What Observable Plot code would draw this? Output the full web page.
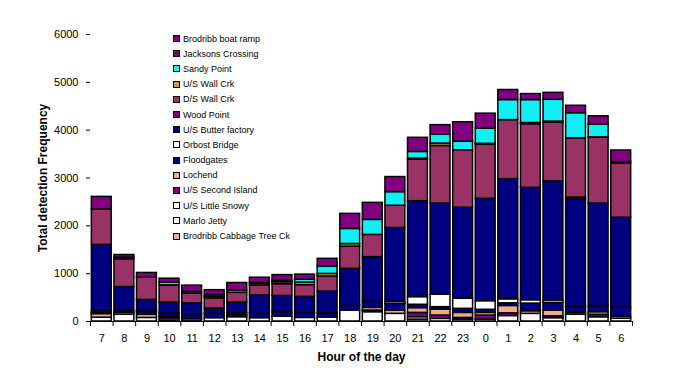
<!DOCTYPE html>
<html><head><meta charset="utf-8">
<script src="https://cdn.jsdelivr.net/npm/d3@7"></script>
<script src="https://cdn.jsdelivr.net/npm/@observablehq/plot@0.6"></script>
<style>
body{margin:0;background:#fff;font-family:"Liberation Sans",Arial,sans-serif;}
#wrap{position:relative;width:675px;height:370px;}
#legend{position:absolute;left:173px;top:31px;font-size:9px;color:#000;font-family:"Liberation Sans",Arial,sans-serif;}
.item{height:15.2px;display:flex;align-items:center;white-space:nowrap}
.sw{width:5px;height:5px;border:1px solid #000;margin-right:3px;flex:none}
</style></head><body><div id="wrap"></div>
<script>
// categories
const hours = ["7","8","9","10","11","12","13","14","15","16","17","18","19","20","21","22","23","0","1","2","3","4","5","6"];
// series, bottom of stack first
const seriesNames = ["Brodribb Cabbage Tree Ck","Marlo Jetty","U/S Little Snowy","U/S Second Island","Lochend","Floodgates","Orbost Bridge","U/S Butter factory","Wood Point","D/S Wall Crk","U/S Wall Crk","Sandy Point","Jacksons Crossing","Brodribb boat ramp"];
const seriesColors = ["#F0AA8C","#FFFFFF","#FFFFFF","#800080","#F0AA8C","#000080","#FFFFFF","#000080","#800080","#993366","#D09E32","#10F0F4","#800080","#800080"];

const cabbageTree  = [0,0,0,0,0,0,0,0,0,0,0,0,0,0,0,0,0,0,0,0,0,0,0,0];
const marloJetty   = [80,145,75,10,0,70,90,70,100,75,85,230,195,160,40,55,40,40,115,160,70,145,90,60];
const littleSnowy  = [0,0,0,0,0,0,0,0,0,0,0,0,0,0,50,0,0,0,0,0,0,0,0,0];
const secondIsland = [0,0,0,60,60,0,0,0,0,0,0,0,35,0,90,70,35,85,55,0,40,0,50,0];
const lochend      = [75,40,65,35,0,0,35,0,0,0,0,0,55,70,100,125,105,55,155,55,120,35,55,40];
const floodgates   = [20,40,60,60,90,90,50,90,90,90,85,100,125,140,70,50,85,65,55,160,160,125,125,190];
const orbostBridge = [35,0,20,0,0,0,0,0,0,0,0,0,0,40,160,260,210,180,85,70,50,0,0,0];
const butterFactory= [1390,495,230,230,230,110,220,385,345,350,455,770,935,1545,2005,1905,1905,2140,2510,2350,2490,2250,2145,1880];
const woodPoint    = [0,0,0,0,0,0,0,0,0,0,0,0,0,0,0,0,0,0,0,0,0,35,0,0];
const dsWallCrk    = [740,580,465,360,205,215,205,210,245,245,315,465,465,465,870,1205,1200,1130,1235,1330,1225,1240,1385,1130];
const usWallCrk    = [0,0,0,0,0,35,50,35,40,55,55,55,0,0,20,50,0,20,0,25,25,0,0,0];
const sandyPoint   = [0,0,0,55,35,35,0,0,0,60,155,315,315,285,140,190,180,315,420,480,455,525,265,0];
const jacksons     = [0,35,0,0,0,0,0,20,30,0,0,0,0,0,0,0,0,0,0,0,0,0,0,30];
const boatRamp     = [265,55,100,85,130,100,155,105,120,105,160,315,355,315,295,195,405,315,210,125,145,155,175,245];

const seriesValues = [cabbageTree,marloJetty,littleSnowy,secondIsland,lochend,floodgates,orbostBridge,butterFactory,woodPoint,dsWallCrk,usWallCrk,sandyPoint,jacksons,boatRamp];
const yTicks = [0,1000,2000,3000,4000,5000,6000];

const rows = [];
seriesNames.forEach((s, k) => seriesValues[k].forEach((v, i) => { if (v > 0) rows.push({i, hour: hours[i], series: s, value: v}); }));

const bw = 0.06;
const chart = Plot.plot({
  width: 675, height: 370,
  marginLeft: 90, marginRight: 43, marginTop: 34, marginBottom: 49,
  style: {fontFamily: "Liberation Sans, Arial, sans-serif", fontSize: "11px", color: "#000", background: "#fff", overflow: "visible"},
  x: {type: "linear", domain: [0, hours.length], axis: null},
  y: {domain: [0, 6000], axis: null},
  color: {domain: seriesNames, range: seriesColors},
  marks: [
    Plot.rectY(rows, {x1: d => d.i + bw, x2: d => d.i + 1 - bw, y: "value", fill: "series", order: seriesNames, stroke: "#000", strokeWidth: 1.5}),
    Plot.ruleY([0], {stroke: "#000", strokeWidth: 1}),
    Plot.axisX(d3.range(hours.length + 1), {tickSize: 5, tickFormat: () => "", label: null}),
    Plot.axisX(d3.range(hours.length).map(i => i + 0.5), {tickSize: 0, tickPadding: 13, tickFormat: v => hours[Math.floor(v)], label: null}),
    Plot.axisY(yTicks, {tickSize: 4, tickPadding: 8, tickFormat: d => String(d), label: null}),
    Plot.text(["Hour of the day"], {frameAnchor: "bottom", dy: 36, fontWeight: "bold", fontSize: 12, textAnchor: "middle", lineAnchor: "middle"}),
    Plot.text(["Total detection Frequency"], {frameAnchor: "left", dx: -47, rotate: -90, fontWeight: "bold", fontSize: 12, textAnchor: "middle", lineAnchor: "middle"})
  ]
});
const wrap = document.getElementById("wrap");
wrap.appendChild(chart);
const legend = document.createElement("div");
legend.id = "legend";
seriesNames.slice().reverse().forEach((s) => {
  const k = seriesNames.indexOf(s);
  const item = document.createElement("div");
  item.className = "item";
  const sw = document.createElement("span");
  sw.className = "sw";
  sw.style.background = seriesColors[k];
  item.appendChild(sw);
  item.appendChild(document.createTextNode(s));
  legend.appendChild(item);
});
wrap.appendChild(legend);
</script>
</body></html>
